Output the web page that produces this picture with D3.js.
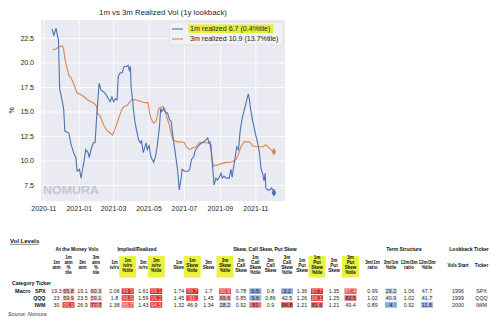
<!DOCTYPE html>
<html><head><meta charset="utf-8">
<script src="https://cdn.jsdelivr.net/npm/d3@7"></script>
<style>
html,body{margin:0;padding:0;background:#fff;}
svg{display:block;font-family:Arial,"Liberation Sans",sans-serif;}
</style></head>
<body><svg id="c" width="500" height="324"></svg>
<script>
// ---------- chart data ----------
const dates1m = ["2020-11-16","2020-11-19","2020-11-23","2020-11-25","2020-11-27","2020-11-29","2020-12-01","2020-12-04","2020-12-06","2020-12-08","2020-12-11","2020-12-15","2020-12-18","2020-12-23","2020-12-27","2020-12-29","2021-01-02","2021-01-05","2021-01-07","2021-01-10","2021-01-13","2021-01-17","2021-01-19","2021-01-22","2021-01-26","2021-01-29","2021-02-01","2021-02-05","2021-02-08","2021-02-13","2021-02-16","2021-02-19","2021-02-24","2021-02-27","2021-03-02","2021-03-05","2021-03-08","2021-03-10","2021-03-13","2021-03-17","2021-03-20","2021-03-24","2021-03-27","2021-03-29","2021-03-31","2021-04-01","2021-04-04","2021-04-05","2021-04-08","2021-04-14","2021-04-17","2021-04-19","2021-04-22","2021-04-27","2021-04-29","2021-05-02","2021-05-05","2021-05-10","2021-05-13","2021-05-16","2021-05-20","2021-05-22","2021-05-24","2021-05-27","2021-05-29","2021-06-03","2021-06-06","2021-06-09","2021-06-12","2021-06-16","2021-06-20","2021-06-23","2021-06-26","2021-06-28","2021-07-02","2021-07-08","2021-07-11","2021-07-14","2021-07-18","2021-07-21","2021-07-25","2021-07-31","2021-08-04","2021-08-08","2021-08-11","2021-08-13","2021-08-15","2021-08-18","2021-08-22","2021-08-25","2021-08-28","2021-08-31","2021-09-03","2021-09-05","2021-09-08","2021-09-12","2021-09-17","2021-09-20","2021-09-22","2021-09-24","2021-09-26","2021-09-30","2021-10-03","2021-10-06","2021-10-09","2021-10-13","2021-10-16","2021-10-20","2021-10-21","2021-10-24","2021-10-27","2021-11-02","2021-11-05","2021-11-08","2021-11-11","2021-11-14","2021-11-16","2021-11-18","2021-11-19","2021-11-22","2021-11-26","2021-11-29","2021-12-02","2021-12-03"];
const vol1m = [23.4,22.8,23.5,22.8,22.3,17.3,16.8,15.9,15.2,13.0,12.9,12.8,11.8,10.8,10.3,8.9,9.1,8.2,9.0,9.9,11.1,10.8,10.3,11.1,11.8,11.8,14.7,17.9,17.2,17.0,16.8,16.5,16.0,16.5,16.0,16.3,16.2,18.6,18.9,19.0,19.6,19.6,19.7,19.2,19.6,17.5,16.0,15.2,13.8,12.1,11.8,12.0,10.8,11.8,11.1,11.5,10.4,9.8,10.4,11.4,13.5,15.3,15.0,15.3,15.0,14.8,14.2,14.0,12.5,10.8,9.1,7.0,8.1,9.1,8.9,8.9,9.1,10.1,10.4,11.1,11.4,11.8,11.9,12.1,12.3,11.8,11.9,10.3,7.5,8.2,8.0,8.3,8.7,8.2,8.4,8.2,8.2,9.1,8.3,9.1,9.8,11.4,11.1,13.1,14.2,15.2,15.9,16.8,16.5,15.2,14.2,12.5,11.8,10.8,9.1,8.6,7.9,8.7,7.2,7.0,7.0,7.2,6.9,6.7];
const dates3m = ["2020-11-17","2020-11-23","2020-11-28","2020-12-04","2020-12-06","2020-12-08","2020-12-11","2020-12-15","2020-12-19","2020-12-24","2020-12-29","2021-01-05","2021-01-10","2021-01-16","2021-01-22","2021-01-28","2021-02-01","2021-02-02","2021-02-06","2021-02-13","2021-02-18","2021-02-24","2021-02-28","2021-03-05","2021-03-09","2021-03-13","2021-03-16","2021-03-20","2021-03-25","2021-03-29","2021-04-02","2021-04-08","2021-04-14","2021-04-19","2021-04-25","2021-04-30","2021-05-02","2021-05-03","2021-05-06","2021-05-10","2021-05-14","2021-05-16","2021-05-18","2021-05-21","2021-05-26","2021-05-29","2021-06-01","2021-06-05","2021-06-09","2021-06-12","2021-06-20","2021-06-26","2021-07-02","2021-07-05","2021-07-11","2021-07-16","2021-07-22","2021-07-27","2021-08-05","2021-08-11","2021-08-17","2021-08-18","2021-08-21","2021-08-25","2021-08-31","2021-09-05","2021-09-11","2021-09-17","2021-09-23","2021-09-29","2021-10-03","2021-10-07","2021-10-13","2021-10-19","2021-10-21","2021-10-24","2021-10-27","2021-11-02","2021-11-08","2021-11-14","2021-11-19","2021-11-26","2021-11-30","2021-12-03"];
const vol3m = [21.3,21.4,21.6,21.7,21.3,20.4,19.6,18.7,18.4,17.7,16.9,16.7,16.5,16.2,16.0,15.8,15.5,14.8,14.6,13.6,13.1,12.8,12.6,13.3,14.0,14.7,15.2,15.5,15.6,15.9,16.2,16.2,16.1,16.0,15.9,15.9,15.2,14.8,14.2,13.8,14.0,14.5,15.2,15.4,15.5,15.3,14.5,13.8,12.8,12.1,11.9,11.9,11.8,11.4,11.1,11.3,11.4,11.8,11.8,11.8,11.6,10.4,9.4,9.5,9.6,9.7,9.8,9.8,9.9,10.1,10.6,11.4,11.9,11.9,11.9,11.8,11.5,11.4,11.4,11.4,11.6,11.2,11.0,10.9];
const xTickLabels = ["2020-11","2021-01","2021-03","2021-05","2021-07","2021-09","2021-11"];
const yTickValues = [7.5,10.0,12.5,15.0,17.5,20.0,22.5];
const seriesNames = ["1m realized 6.7 (0.4%tile)","3m realized 10.9 (13.7%tile)"];

// ---------- table data ----------
const groupNames = ["At the Money Vols","Implied/Realized","Skew, Call Skew, Put Skew","Term Structure","Lookback Ticker"];
const tickers = ["SPX","QQQ","IWM"];
const atm1m = [19.3,23,30];         const atm1mPct = [65.8,59.9,95.9];
const atm3m = [19.1,23.5,26.9];     const atm3mPct = [60.3,59.1,77.7];
const ivrv1m = [2.06,1.8,1.38];     const ivrv1mPct = [99.9,96.9,85.7];
const ivrv3m = [1.61,1.59,1.43];    const ivrv3mPct = [99.1,99.2,94.5];
const skew1m = [1.74,1.45,1.32];    const skew1mPct = [99.7,91,46.9];
const skew3m = [1.7,1.45,1.34];     const skew3mPct = [90.6,69.6,28.2];
const call1m = [0.78,0.85,0.92];    const call1mPct = [0.5,9.6,81];
const call3m = [0.8,0.86,0.9];      const call3mPct = [3.2,42.5,84.8];
const put1m = [1.36,1.26,1.21];     const put1mPct = [97.7,96.1,81.6];
const put3m = [1.35,1.25,1.21];     const put3mPct = [87.4,82.5,49.4];
const ratio3m1m = [0.99,1.02,0.89]; const ratio3m1mPct = [29.2,40.9,4];
const ratio12m3m = [1.06,1.02,0.92];const ratio12m3mPct = [47.7,41.7,11.8];
const volsStart = [1996,1999,2000];

// ---------- draw chart ----------
const svg = d3.select("#c");
const parse = d3.timeParse("%Y-%m-%d");
const s1 = dates1m.map((d,i)=>({d:parse(d),v:vol1m[i]}));
const s3 = dates3m.map((d,i)=>({d:parse(d),v:vol3m[i]}));
const all = s1.concat(s3);
const xe = d3.extent(all,d=>d.d), ye = d3.extent(all,d=>d.v);
const xp = (xe[1]-xe[0])*0.05, yp = (ye[1]-ye[0])*0.05;
const L=41,R=285,T=20,B=201;
const x = d3.scaleTime().domain([new Date(+xe[0]-xp),new Date(+xe[1]+xp)]).range([L,R]);
const y = d3.scaleLinear().domain([ye[0]-yp,ye[1]+yp]).range([B,T]);
const tickDates = xTickLabels.map(t=>d3.timeParse("%Y-%m")(t));

svg.append("rect").attr("x",L).attr("y",T).attr("width",R-L).attr("height",B-T).attr("fill","#eaeaf2");
const xAxis = d3.axisBottom(x).tickValues(tickDates).tickFormat(d3.timeFormat("%Y-%m")).tickSize(-(B-T)).tickPadding(5);
const gx = svg.append("g").attr("transform",`translate(0,${B})`).call(xAxis);
const yAxis = d3.axisLeft(y).tickValues(yTickValues).tickFormat(d3.format(".1f")).tickSize(-(R-L)).tickPadding(7);
const gy = svg.append("g").attr("transform",`translate(${L},0)`).call(yAxis);
[gx,gy].forEach(g=>{
  g.select(".domain").remove();
  g.selectAll(".tick line").attr("stroke","#fff").attr("stroke-width",0.8);
  g.selectAll(".tick text").attr("fill","#262626").style("font-size","7px").style("font-family","Arial,'Liberation Sans',sans-serif");
});

svg.append("text").attr("x",L+2).attr("y",194).attr("fill","#c6c6ce").style("font-size","11.5px").style("font-weight","bold")
  .attr("textLength",56).attr("lengthAdjust","spacingAndGlyphs").text("NOMURA");

const line = d3.line().x(d=>x(d.d)).y(d=>y(d.v));
const cols = ["#4c72b0","#dd8452"];
svg.append("path").datum(s3).attr("d",line).attr("fill","none").attr("stroke",cols[1]).attr("stroke-width",1.1);
svg.append("path").datum(s1).attr("d",line).attr("fill","none").attr("stroke",cols[0]).attr("stroke-width",1.1);
const diamond = d3.symbol().type(d3.symbolDiamond).size(18);
[[s1,cols[0]],[s3,cols[1]]].forEach(([s,c])=>{
  const last = s[s.length-1];
  svg.append("path").attr("d",diamond).attr("transform",`translate(${x(last.d)},${y(last.v)})`).attr("fill",c);
});

svg.append("text").attr("x",(L+R)/2).attr("y",15).attr("text-anchor","middle").attr("fill","#262626").style("font-size","7.8px").text("1m vs 3m Realized Vol (1y lookback)");
svg.append("text").attr("transform",`translate(14,${(T+B)/2}) rotate(-90)`).attr("text-anchor","middle").attr("fill","#262626").style("font-size","7px").text("%");

// legend
const lg = svg.append("g");
lg.append("rect").attr("x",169.5).attr("y",22).attr("width",114).attr("height",23).attr("rx",2).attr("fill","#f0f0f5").attr("stroke","#d6d6dc").attr("stroke-width",0.6);
lg.append("rect").attr("x",188.5).attr("y",24.5).attr("width",85).attr("height",8.5).attr("fill","#e4ee3a");
seriesNames.forEach((n,i)=>{
  const yy = 29 + i*10;
  lg.append("line").attr("x1",172).attr("x2",183).attr("y1",yy).attr("y2",yy).attr("stroke",cols[i]).attr("stroke-width",1.1);
  lg.append("text").attr("x",190).attr("y",yy+2.4).attr("fill","#262626").style("font-size","7.1px").text(n);
});

// ---------- table ----------
const tb = svg.append("g").style("font-family","Arial,'Liberation Sans',sans-serif");
tb.append("text").attr("x",10).attr("y",243).style("font-size","6px").style("font-weight","bold").attr("fill","#111").text("Vol Levels");
tb.append("line").attr("x1",10).attr("x2",38.5).attr("y1",244.3).attr("y2",244.3).attr("stroke","#111").attr("stroke-width",0.5);

const groupX = [77,137,265,404,469];
groupNames.forEach((g,i)=>tb.append("text").attr("x",groupX[i]).attr("y",250.8).attr("text-anchor","middle")
  .style("font-size","5px").style("font-weight","bold").attr("fill","#111").text(g));

const columns = [
  {h:["1m","atm"],x:56.5,v:atm1m},
  {h:["1m","atm","%","tile"],x:68.5,v:atm1mPct,p:1},
  {h:["3m","atm"],x:82.5,v:atm3m},
  {h:["3m","atm","%","tile"],x:96,v:atm3mPct,p:1},
  {h:["1m","iv/rv"],x:114.5,v:ivrv1m},
  {h:["1m","iv/rv","%tile"],x:127.7,v:ivrv1mPct,p:1,hl:1},
  {h:["3m","iv/rv"],x:143.3,v:ivrv3m},
  {h:["3m","iv/rv","%tile"],x:156.2,v:ivrv3mPct,p:1,hl:1},
  {h:["1m","Skew"],x:179,v:skew1m},
  {h:["1m","Skew","%tile"],x:192.2,v:skew1mPct,p:1,hl:1},
  {h:["3m","Skew"],x:208.5,v:skew3m},
  {h:["3m","Skew","%tile"],x:225,v:skew3mPct,p:1,hl:1},
  {h:["1m","Call","Skew"],x:241,v:call1m},
  {h:["1m","Call","Skew","%tile"],x:255.3,v:call1mPct,p:1},
  {h:["3m","Call","Skew"],x:270.5,v:call3m},
  {h:["3m","Call","Skew","%tile"],x:287,v:call3mPct,p:1},
  {h:["1m","Put","Skew"],x:302,v:put1m},
  {h:["1m","Put","Skew","%tile"],x:317,v:put1mPct,p:1,hl:1},
  {h:["3m","Put","Skew"],x:334,v:put3m},
  {h:["3m","Put","Skew","%tile"],x:350.5,v:put3mPct,p:1,hl:1},
  {h:["3m/1m","ratio"],x:372.5,v:ratio3m1m},
  {h:["3m/1m","%tile"],x:391,v:ratio3m1mPct,p:1},
  {h:["12m/3m","ratio"],x:409,v:ratio12m3m},
  {h:["12m/3m","%tile"],x:427,v:ratio12m3mPct,p:1},
  {h:["Vols Start"],x:458,v:volsStart},
  {h:["Ticker"],x:481.5,v:tickers}
];
const color = d3.scaleLinear().domain([0,50,100]).range(["#7fa4d9","#ffffff","#e0201e"]);
const rowY = [291.2,298,304.9];
const lh = 5.1, hc = 265;
columns.forEach(c=>{
  if(c.hl) tb.append("rect").attr("x",c.x-8.5).attr("y",256).attr("width",17).attr("height",21.5).attr("fill","#e9f23f");
  const n = c.h.length;
  c.h.forEach((t,j)=>tb.append("text").attr("x",c.x).attr("y",hc-(n-1)*lh/2+j*lh+1.8).attr("text-anchor","middle")
    .style("font-size","4.6px").style("font-weight","bold").attr("fill","#111").text(t));
  c.v.forEach((v,i)=>{
    if(c.p){
      tb.append("rect").attr("x",c.x-6).attr("y",rowY[i]-2.8).attr("width",12).attr("height",5.6).attr("fill",color(v));
    }
    tb.append("text").attr("x",c.x).attr("y",rowY[i]+1.9).attr("text-anchor","middle")
      .style("font-size","5.3px").attr("fill",(c.p && v>85)?"#fbd0cc":"#222").text(v);
  });
});
tb.append("text").attr("x",12).attr("y",285).style("font-size","5.2px").style("font-weight","bold").attr("fill","#111").text("Category Ticker");
tb.append("text").attr("x",15).attr("y",rowY[0]+1.9).style("font-size","5.3px").style("font-weight","bold").attr("fill","#111").text("Macro");
tickers.forEach((t,i)=>tb.append("text").attr("x",45.5).attr("y",rowY[i]+1.9).attr("text-anchor","end")
  .style("font-size","5.3px").style("font-weight","bold").attr("fill","#111").text(t));
tb.append("text").attr("x",8).attr("y",316).style("font-size","5.3px").style("font-style","italic").attr("fill","#333").text("Source: Nomura");
</script></body></html>
